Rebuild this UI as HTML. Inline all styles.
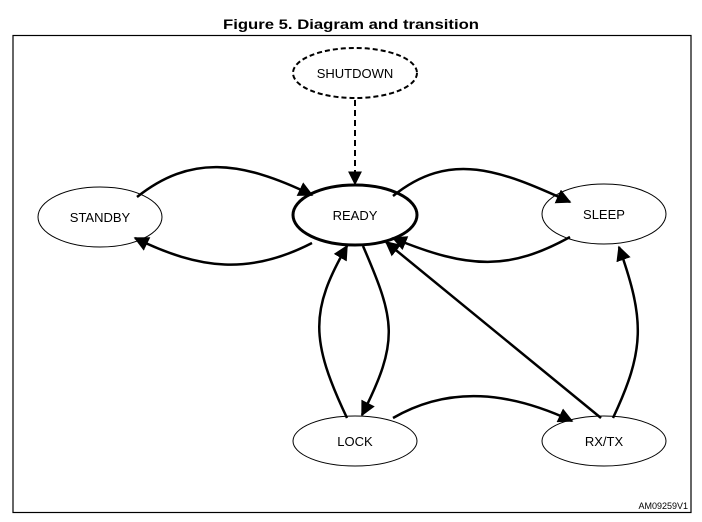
<!DOCTYPE html>
<html><head><style>body{margin:0;background:#fff}svg{display:block}</style></head><body>
<svg width="702" height="522" viewBox="0 0 702 522" xmlns="http://www.w3.org/2000/svg" font-family="Liberation Sans, sans-serif">
<defs><marker id="a" viewBox="0 0 10 10" refX="9" refY="5" markerWidth="6" markerHeight="6" orient="auto" markerUnits="strokeWidth"><path d="M0,0L10,5L0,10z" fill="#000"/></marker>
<marker id="b" viewBox="0 0 10 10" refX="9" refY="5" markerWidth="7" markerHeight="7" orient="auto" markerUnits="strokeWidth"><path d="M0,0L10,5L0,10z" fill="#000"/></marker></defs>
<text x="351" y="29" text-anchor="middle" font-weight="bold" font-size="14" textLength="256" lengthAdjust="spacingAndGlyphs">Figure 5. Diagram and transition</text>
<rect x="13" y="35.5" width="678" height="477" fill="none" stroke="#000" stroke-width="1.2"/>
<g fill="#fff" stroke="#000">
<ellipse cx="355" cy="73" rx="62" ry="25" stroke-width="2" stroke-dasharray="5,3"/>
<ellipse cx="355" cy="215" rx="62" ry="30" stroke-width="3"/>
<ellipse cx="100" cy="217" rx="62" ry="30"/>
<ellipse cx="604" cy="214" rx="62" ry="30"/>
<ellipse cx="355" cy="441" rx="62" ry="25"/>
<ellipse cx="604" cy="441" rx="62" ry="25"/>
</g>
<g fill="none" stroke="#000" stroke-width="2.5" marker-end="url(#a)">
<path d="M355,100 L355,184" stroke-width="2" stroke-dasharray="6,4" marker-end="url(#b)"/>
<path d="M137,197 C190,155 240,160 312,195"/>
<path d="M312,243 C250,275 200,270 135,238"/>
<path d="M393,196 C450,150 500,170 570,202"/>
<path d="M570,237 C510,270 470,270 393,238"/>
<path d="M347,418 C310,340 310,310 347,246"/>
<path d="M363,246 C395,320 400,340 362,415"/>
<path d="M601,418 L386,242"/>
<path d="M613,418 C645,350 645,320 619,247"/>
<path d="M393,418 C450,385 510,392 572,421"/>
</g>
<g font-size="13" text-anchor="middle">
<text x="355" y="78">SHUTDOWN</text>
<text x="355" y="220">READY</text>
<text x="100" y="222">STANDBY</text>
<text x="604" y="219">SLEEP</text>
<text x="355" y="446">LOCK</text>
<text x="604" y="446">RX/TX</text>
</g>
<text x="688" y="509" text-anchor="end" font-size="9">AM09259V1</text>
</svg>
</body></html>
